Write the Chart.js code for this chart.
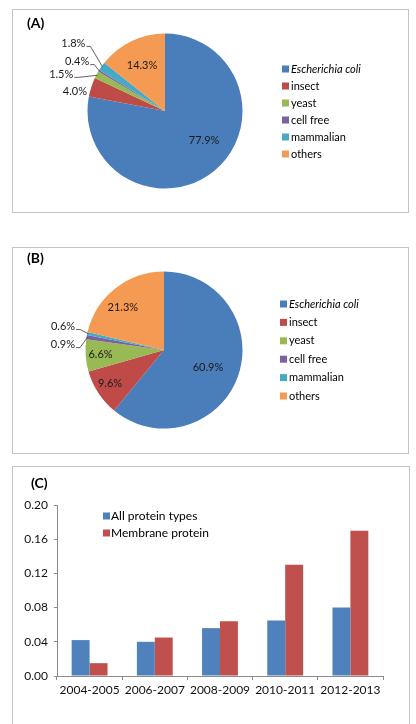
<!DOCTYPE html>
<html><head><meta charset="utf-8">
<script src="https://cdn.jsdelivr.net/npm/chart.js@4.4.0/dist/chart.umd.min.js"></script>
<style>
html,body{margin:0;padding:0;background:#fff;width:416px;height:724px;overflow:hidden;font-family:Lato,sans-serif}
.panel{position:absolute;border:1px solid #c4c4c4;box-sizing:border-box;}
.panel canvas{position:absolute;left:0;top:0}
.tag{position:absolute;font:bold 14px Lato,sans-serif;color:#000;line-height:16px}
</style></head><body>
<div class="panel" style="left:12px;top:9px;width:397px;height:204px"><canvas id="cA" width="395" height="202" style="width:395px;height:202px"></canvas></div>
<div class="panel" style="left:12px;top:247px;width:397px;height:207px"><canvas id="cB" width="395" height="205" style="width:395px;height:205px"></canvas></div>
<div class="panel" style="left:12px;top:466px;width:398px;height:260px;border-bottom:none"><canvas id="cC" width="396" height="249" style="width:396px;height:249px"></canvas></div>
<div class="tag" style="left:27px;top:15px">(A)</div>
<div class="tag" style="left:27px;top:250px">(B)</div>
<div class="tag" style="left:31px;top:475px">(C)</div>
<script>
// ---- data ----
const hosts = ['Escherichia coli', 'insect', 'yeast', 'cell free', 'mammalian', 'others'];
const sharesA = [77.9, 4.0, 1.5, 0.4, 1.8, 14.3];
const sharesB = [60.9, 9.6, 6.6, 0.9, 0.6, 21.3];
const periods = ['2004-2005', '2006-2007', '2008-2009', '2010-2011', '2012-2013'];
const allProteinTypes = [0.042, 0.040, 0.056, 0.065, 0.080];
const membraneProtein = [0.015, 0.045, 0.064, 0.130, 0.170];
const yTicks = [0.00, 0.04, 0.08, 0.12, 0.16, 0.20];

// ---- styles ----
const pieColors = ['#4A7EBB', '#BE4B48', '#98B954', '#7D60A0', '#46AAC5', '#F59A52'];
const FONT = 'Lato, sans-serif';

const pieLabels = {
  id: 'pieLabels',
  afterDatasetsDraw(chart, args, o) {
    const ctx = chart.ctx, meta = chart.getDatasetMeta(0), vals = chart.data.datasets[0].data;
    ctx.save();
    ctx.font = o.font; ctx.fillStyle = '#1b1b1b'; ctx.textAlign = 'center'; ctx.textBaseline = 'middle';
    ctx.strokeStyle = '#3a3a3a'; ctx.lineWidth = 0.8;
    meta.data.forEach((arc, i) => {
      const p = arc.getProps(['x', 'y', 'startAngle', 'endAngle', 'outerRadius'], true);
      const mid = (p.startAngle + p.endAngle) / 2;
      const a = mid + (o.shift[i] || 0) * Math.PI / 180;
      const rf = o.radius[i], r = p.outerRadius * rf;
      const tx = p.x + Math.cos(a) * r, ty = p.y + Math.sin(a) * r;
      const txt = vals[i].toFixed(1) + '%';
      ctx.fillText(txt, tx, ty);
      if (rf > 1.25) {
        const w = ctx.measureText(txt).width;
        const sx = tx + w / 2 + 1, sy = ty + 3;
        const ex = p.x + Math.cos(mid) * (p.outerRadius - 1), ey = p.y + Math.sin(mid) * (p.outerRadius - 1);
        ctx.beginPath(); ctx.moveTo(sx, sy); ctx.lineTo(sx + 4, sy); ctx.lineTo(ex, ey); ctx.stroke();
      }
    });
    ctx.restore();
  }
};

const sideLegend = {
  id: 'sideLegend',
  afterDraw(chart, args, o) {
    const ctx = chart.ctx;
    const items = o.perItem
      ? chart.data.labels.map((l, i) => [l, chart.data.datasets[0].backgroundColor[i]])
      : chart.data.datasets.map(d => [d.label, d.backgroundColor]);
    ctx.save(); ctx.textBaseline = 'middle'; ctx.textAlign = 'left';
    items.forEach(([lab, col], i) => {
      const y = o.y + i * o.step;
      ctx.fillStyle = col;
      ctx.fillRect(o.x, y - o.box / 2, o.box, o.box);
      ctx.fillStyle = '#000';
      ctx.font = (o.italic && i === 0 ? 'italic ' : '') + o.size + 'px ' + FONT;
      ctx.fillText(lab, o.x + o.gap, y);
    });
    ctx.restore();
  }
};

function pie(id, data, pad, labelOpts, legendOpts) {
  return new Chart(document.getElementById(id), {
    type: 'pie',
    data: { labels: hosts, datasets: [{ data: data, backgroundColor: pieColors, borderWidth: 0 }] },
    options: {
      responsive: false, animation: false,
      layout: { padding: pad },
      plugins: {
        legend: { display: false }, tooltip: { enabled: false },
        pieLabels: Object.assign({ font: '11px ' + FONT }, labelOpts),
        sideLegend: Object.assign({ perItem: true, italic: true, box: 7, gap: 9, size: 11 }, legendOpts)
      }
    },
    plugins: [pieLabels, sideLegend]
  });
}

pie('cA', sharesA, { left: 74.5, right: 165.5, top: 23.5, bottom: 23.5 },
  { radius: [0.63, 1.19, 1.42, 1.30, 1.47, 0.66], shift: [-13.6, -5.6, -8.4, -1.9, 1.2, -0.9] },
  { x: 269, y: 59, step: 17 });

pie('cB', sharesB, { left: 72.5, right: 165.5, top: 23.5, bottom: 24.5 },
  { radius: [0.60, 0.81, 0.81, 1.29, 1.32, 0.75], shift: [1.4, 1.3, 0, -6.4, 0.9, -6] },
  { x: 267, y: 56, step: 18.4 });

new Chart(document.getElementById('cC'), {
  type: 'bar',
  data: {
    labels: periods,
    datasets: [
      { label: 'All protein types', data: allProteinTypes, backgroundColor: '#4F81BD' },
      { label: 'Membrane protein', data: membraneProtein, backgroundColor: '#C0504D' }
    ]
  },
  options: {
    responsive: false, animation: false,
    categoryPercentage: 0.55, barPercentage: 1,
    layout: { padding: { left: 0, right: 26, top: 38, bottom: 0 } },
    plugins: {
      legend: { display: false }, tooltip: { enabled: false },
      sideLegend: { perItem: false, x: 90, y: 49, step: 17, box: 7, gap: 8, size: 12 }
    },
    scales: {
      x: {
        grid: { offset: true, drawOnChartArea: false, tickLength: 4, color: '#8a8a8a' },
        border: { color: '#8a8a8a' },
        ticks: { font: { family: FONT, size: 12 }, color: '#111', padding: 3, maxRotation: 0 },
        afterFit(s) { s.height = 40; }
      },
      y: {
        min: 0, max: 0.2,
        afterBuildTicks(s) { s.ticks = yTicks.map(v => ({ value: v })); },
        ticks: { font: { family: FONT, size: 12 }, color: '#111', padding: 6, callback: v => Number(v).toFixed(2) },
        grid: { drawOnChartArea: false, tickLength: 3, color: '#8a8a8a' },
        border: { color: '#8a8a8a' },
        afterFit(s) { s.width = 44; }
      }
    }
  },
  plugins: [sideLegend]
});
</script>
</body></html>
